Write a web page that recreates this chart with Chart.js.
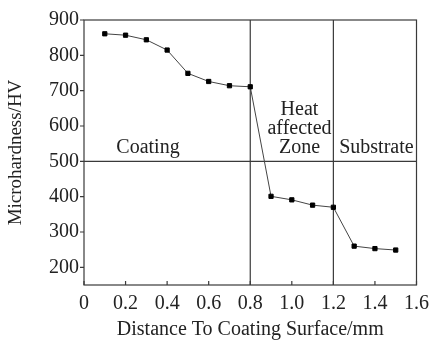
<!DOCTYPE html>
<html>
<head>
<meta charset="utf-8">
<script src="https://cdn.jsdelivr.net/npm/chart.js@4.4.1/dist/chart.umd.min.js"></script>
<style>
  html, body { margin: 0; padding: 0; background: #fff; }
  #wrap { width: 436px; height: 340px; }
</style>
</head>
<body>
<div id="wrap"><canvas id="c" width="436" height="340"></canvas></div>
<script>
const distances = [0.1, 0.2, 0.3, 0.4, 0.5, 0.6, 0.7, 0.8, 0.9, 1.0, 1.1, 1.2, 1.3, 1.4, 1.5];
const hardness = [861, 857, 844, 815, 749, 726, 714, 711, 401, 391, 376, 370, 260, 253, 249];
const regionBoundaries = [0.8, 1.2];
const regionSplitHardness = 500;
const xTickValues = [0, 0.2, 0.4, 0.6, 0.8, 1.0, 1.2, 1.4, 1.6];
const yTickValues = [200, 300, 400, 500, 600, 700, 800, 900];

const FONT = "'Liberation Serif', 'Times New Roman', serif";
const INK = '#222';
const LINE = '#3a3a3a';

const overlay = {
  id: 'overlay',
  beforeDatasetsDraw(chart) {
    const {ctx, chartArea: a, scales: {x, y}} = chart;
    ctx.save();
    ctx.strokeStyle = LINE;
    ctx.lineWidth = 1.2;
    ctx.strokeRect(a.left, a.top, a.right - a.left, a.bottom - a.top);
    const yy = y.getPixelForValue(regionSplitHardness);
    ctx.beginPath();
    ctx.moveTo(a.left, yy); ctx.lineTo(a.right, yy);
    regionBoundaries.forEach(v => {
      const xx = x.getPixelForValue(v);
      ctx.moveTo(xx, a.top); ctx.lineTo(xx, a.bottom);
    });
    ctx.stroke();
    ctx.beginPath();
    y.ticks.forEach(t => {
      const p = y.getPixelForValue(t.value);
      ctx.moveTo(a.left - 4, p); ctx.lineTo(a.left, p);
    });
    x.ticks.forEach(t => {
      const p = x.getPixelForValue(t.value);
      ctx.moveTo(p, a.bottom); ctx.lineTo(p, a.bottom - 4);
    });
    ctx.stroke();
    ctx.fillStyle = INK;
    ctx.font = "20px " + FONT;
    ctx.textAlign = 'center';
    ctx.textBaseline = 'alphabetic';
    ctx.fillText('Coating', x.getPixelForValue(0.308), y.getPixelForValue(525));
    const hx = x.getPixelForValue(1.037);
    ctx.fillText('Heat', hx, y.getPixelForValue(632));
    ctx.fillText('affected', hx, y.getPixelForValue(578));
    ctx.fillText('Zone', hx, y.getPixelForValue(525));
    ctx.fillText('Substrate', x.getPixelForValue(1.407), y.getPixelForValue(525));
    ctx.restore();
  }
};

new Chart(document.getElementById('c'), {
  type: 'line',
  data: {
    datasets: [{
      data: distances.map((d, i) => ({x: d, y: hardness[i]})),
      borderColor: '#444',
      borderWidth: 1,
      backgroundColor: '#000',
      pointStyle: 'rect',
      pointRadius: 3,
      pointBorderColor: '#000',
      pointBackgroundColor: '#000',
      tension: 0
    }]
  },
  options: {
    responsive: false,
    animation: false,
    layout: { padding: { top: 20, right: 11, left: 0, bottom: 0 } },
    plugins: { legend: { display: false }, tooltip: { enabled: false } },
    scales: {
      x: {
        type: 'linear',
        min: 0, max: 1.6,
        afterBuildTicks: s => { s.ticks = xTickValues.map(v => ({value: v})); },
        afterFit: s => { s.height = 55; },
        grid: { display: false, drawTicks: false },
        border: { display: false },
        ticks: {
          padding: 7,
          color: INK,
          font: { family: FONT, size: 20 },
          maxRotation: 0,
          autoSkip: false,
          callback: v => v === 0 ? '0' : Number(v).toFixed(1)
        },
        title: {
          display: true,
          text: 'Distance To Coating Surface/mm',
          color: INK,
          padding: { top: 0, bottom: -2 },
          font: { family: FONT, size: 20 }
        }
      },
      y: {
        type: 'linear',
        min: 150, max: 900,
        afterBuildTicks: s => { s.ticks = yTickValues.map(v => ({value: v})); },
        afterFit: s => { s.width = 84; },
        grid: { display: false, drawTicks: false },
        border: { display: false },
        ticks: {
          padding: 5,
          color: INK,
          font: { family: FONT, size: 20 },
          autoSkip: false
        },
        title: {
          display: true,
          text: 'Microhardness/HV',
          color: INK,
          padding: { top: 5, bottom: 4 },
          font: { family: FONT, size: 19 }
        }
      }
    }
  },
  plugins: [overlay]
});
</script>
</body>
</html>
